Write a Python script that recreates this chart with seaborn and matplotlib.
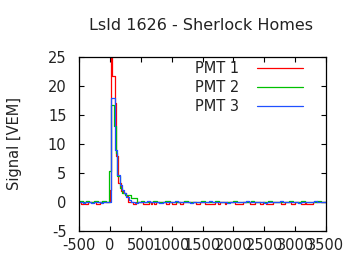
import matplotlib
matplotlib.use("Agg")
import matplotlib.pyplot as plt
import seaborn as sns
import pandas as pd

sns.set_style("ticks")
plt.rcParams['font.family'] = ['DejaVu Sans']

title = "LsId 1626 - Sherlock Homes"
ylabel = "Signal [VEM]"
series_names = ["PMT 1", "PMT 2", "PMT 3"]
colors = ["#ff0000", "#00c000", "#2050ff"]

# step start times (ns) and signal values (VEM); last edge 3500
pmt1_t = [-500, -470, -420, -405, -356, -227, -162, 0, 16, 37, 75, 96, 129, 180, 210,
          255, 300, 370, 420, 530, 631, 663, 690, 712, 740, 917, 960, 1014, 1068,
          1133, 1186, 1391, 1456, 1537, 1699, 1753, 1780, 1861, 1888, 2022, 2157,
          2265, 2346, 2427, 2481, 2535, 2643, 2778, 2832, 2940, 2994, 3102, 3156,
          3183, 3290, 3500]
pmt1_v = [0.0, -0.35, 0.0, -0.35, 0.0, -0.35, 0.0, 2.0, 30.0, 21.8, 17.0, 8.0, 3.3, 1.9, 1.5,
          1.0, 0.05, -0.35, 0.0, -0.4, 0.0, -0.35, 0.0, -0.35, 0.0, -0.35, 0.0, -0.35, 0.0,
          -0.35, 0.0, -0.35, 0.0, -0.35, 0.0, -0.35, 0.0, -0.35, 0.0, -0.35, 0.0,
          -0.35, 0.0, -0.35, 0.0, -0.35, 0.0, -0.35, 0.0, -0.35, 0.0, -0.35, 0.0,
          -0.35, 0.0, 0.0]

pmt2_t = [-500, -440, -380, -330, -250, -200, -120, -60, -20, 16, 70, 97, 118, 160, 200,
          250, 350, 440, 500, 560, 700, 760, 900, 980, 1200, 1260, 1480, 1540, 1700,
          1760, 2000, 2060, 2280, 2340, 2560, 2620, 2900, 2960, 3100, 3160, 3350,
          3420, 3500]
pmt2_v = [0.15, 0.0, 0.15, 0.0, 0.15, 0.0, 0.15, 0.0, 5.3, 16.7, 13.1, 8.5, 4.4, 2.4, 1.5,
          1.2, 0.75, 0.0, 0.15, 0.0, 0.2, 0.0, 0.15, 0.0, 0.15, 0.0, 0.2, 0.0, 0.15,
          0.0, 0.15, 0.0, 0.2, 0.0, 0.15, 0.0, 0.15, 0.0, 0.2, 0.0, 0.15,
          0.0, 0.0]

pmt3_t = [-500, -440, -400, -300, -260, -150, -110, 21, 81, 118, 157, 189, 226, 264, 307,
          350, 400, 450, 600, 650, 800, 860, 1050, 1100, 1300, 1350, 1600, 1650, 1900,
          1950, 2200, 2250, 2500, 2550, 2750, 2800, 3050, 3100, 3300, 3350, 3500]
pmt3_v = [0.0, -0.2, 0.0, -0.2, 0.0, -0.2, 0.0, 17.9, 9.0, 4.7, 2.9, 2.1, 1.5, 0.9, 0.3,
          0.0, -0.2, 0.0, 0.2, 0.0, -0.2, 0.0, 0.2, 0.0, -0.2, 0.0, 0.2, 0.0, -0.2,
          0.0, 0.2, 0.0, -0.2, 0.0, 0.2, 0.0, -0.2, 0.0, 0.2, 0.0, 0.0]

xticks = [-500, 0, 500, 1000, 1500, 2000, 2500, 3000, 3500]
yticks = [-5, 0, 5, 10, 15, 20, 25]

fig = plt.figure(figsize=(3.6, 2.7), dpi=100)
ax = fig.add_axes([79/360, 1 - 231/270, (326-79)/360, (231-57)/270])

for name, t, v, c in zip(series_names, [pmt1_t, pmt2_t, pmt3_t],
                         [pmt1_v, pmt2_v, pmt3_v], colors):
    df = pd.DataFrame({"t": t, "v": v})
    sns.lineplot(data=df, x="t", y="v", ax=ax, color=c, lw=0.9,
                 drawstyle="steps-post", estimator=None, sort=False, label=name)

ax.set_xlim(-500, 3500)
ax.set_ylim(-5, 25)
ax.set_xticks(xticks)
ax.set_yticks(yticks)
ax.set_xticklabels([str(x) for x in xticks], fontsize=10.5)
ax.set_yticklabels([str(y) for y in yticks], fontsize=10.5)
ax.tick_params(direction="in", top=True, right=True, length=3.5, width=0.8,
               colors="black", labelcolor="#222222")
ax.tick_params(axis="y", pad=9)
ax.tick_params(axis="x", pad=5)
for s in ax.spines.values():
    s.set_visible(True)
    s.set_linewidth(0.9)
    s.set_color("black")
ax.set_xlabel("")
ax.set_ylabel(ylabel, fontsize=10.5, color="#222222")
ax.yaxis.set_label_coords((22 - 79) / 247, 0.5)
fig.text(201/360, 1 - 25/270, title, ha="center", va="center",
         fontsize=11.5, color="#222222")

leg = ax.legend(loc="upper right", bbox_to_anchor=(0.95, 1.035), frameon=False,
                markerfirst=False, fontsize=10.5, handlelength=3.2,
                labelspacing=0.28, borderaxespad=0.3, handletextpad=1.2)
for txt in leg.get_texts():
    txt.set_color("#222222")

fig.savefig("out.png", dpi=100)
